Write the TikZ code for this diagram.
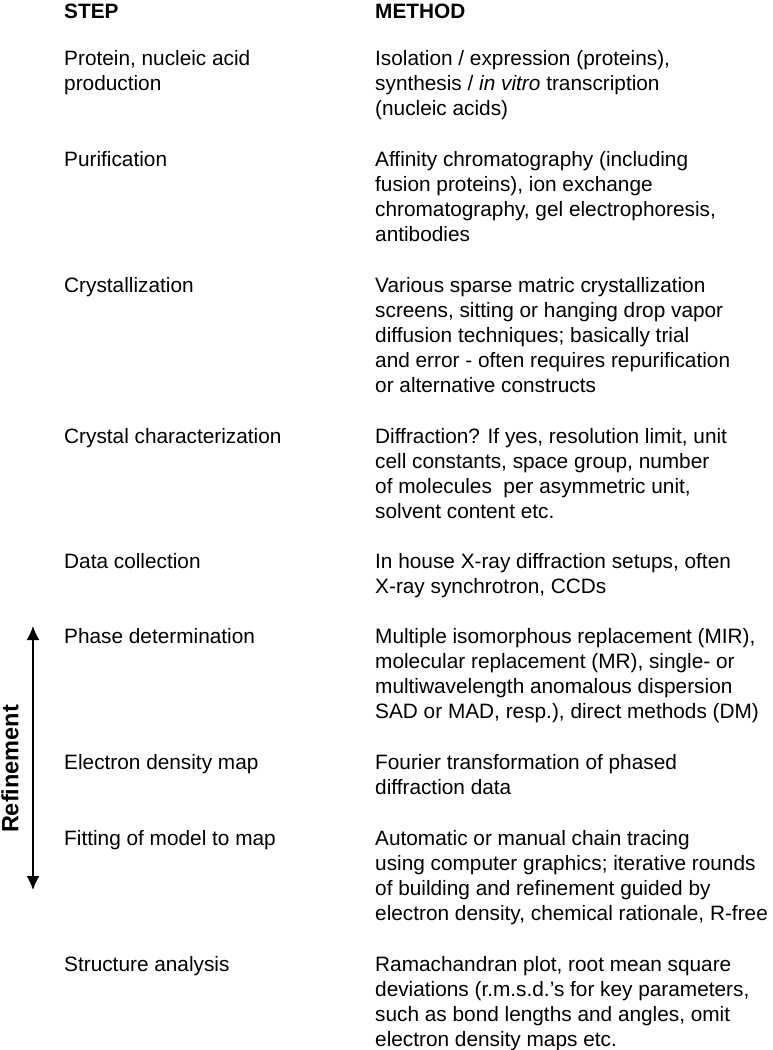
\documentclass[tikz,border=0pt]{standalone}
\usepackage{fontspec}
\setmainfont{Liberation Sans}
\usetikzlibrary{arrows.meta}
\begin{document}
\begin{tikzpicture}[x=1pt,y=-1pt,
  txt/.style={anchor=north west,align=left,inner sep=0pt,font=\fontsize{20.8}{25}\selectfont},
  hdr/.style={txt,font=\fontsize{20.8}{25}\selectfont\bfseries}]
\useasboundingbox (0,0) rectangle (772,1050);
% node top = first baseline - 17.5 (strut height)
\node[hdr] (h1) at (64,0.5) {\strut STEP};
\node[hdr] (h2) at (375,0.5) {\strut METHOD};
\node[txt] (s1) at (64,47.5) {\strut Protein, nucleic acid\\production};
\node[txt] (m1) at (375,47.5) {\strut Isolation / expression (proteins),\\synthesis / \textit{in vitro} transcription\\(nucleic acids)};
\node[txt] (s2) at (64,148.5) {\strut Purification};
\node[txt] (m2) at (375,148.5) {\strut Affinity chromatography (including\\fusion proteins), ion exchange\\chromatography, gel electrophoresis,\\antibodies};
\node[txt] (s3) at (64,274.5) {\strut Crystallization};
\node[txt] (m3) at (375,274.5) {\strut Various sparse matric crystallization\\screens, sitting or hanging drop vapor\\diffusion techniques; basically trial\\and error - often requires repurification\\or alternative constructs};
\node[txt] (s4) at (64,425.5) {\strut Crystal characterization};
\node[txt] (m4) at (375,425.5) {\strut Diffraction? If yes, resolution limit, unit\\cell constants, space group, number\\of molecules\ \ per asymmetric unit,\\solvent content etc.};
\node[txt] (s5) at (64,550.5) {\strut Data collection};
\node[txt] (m5) at (375,550.5) {\strut In house X-ray diffraction setups, often\\X-ray synchrotron, CCDs};
\node[txt] (s6) at (64,625.5) {\strut Phase determination};
\node[txt] (m6) at (375,625.5) {\strut Multiple isomorphous replacement (MIR),\\molecular replacement (MR), single- or\\multiwavelength anomalous dispersion\\SAD or MAD, resp.), direct methods (DM)};
\node[txt] (s7) at (64,751.5) {\strut Electron density map};
\node[txt] (m7) at (375,751.5) {\strut Fourier transformation of phased\\diffraction data};
\node[txt] (s8) at (64,827.5) {\strut Fitting of model to map};
\node[txt] (m8) at (375,827.5) {\strut Automatic or manual chain tracing\\using computer graphics; iterative rounds\\of building and refinement guided by\\electron density, chemical rationale, R-free};
\node[txt] (s9) at (64,953.5) {\strut Structure analysis};
\node[txt] (m9) at (375,953.5) {\strut Ramachandran plot, root mean square\\deviations (r.m.s.d.'s for key parameters,\\such as bond lengths and angles, omit\\electron density maps etc.};
\coordinate (atop) at (33,626);
\coordinate (abot) at (33,890);
\draw[line width=1.6pt,{Latex[length=14pt,width=13pt]}-{Latex[length=14pt,width=13pt]}] (atop) -- (abot);
\node[rotate=90,inner sep=0pt,font=\fontsize{23.5}{28}\selectfont\bfseries] (ref) at (10,769) {Refinement};
\end{tikzpicture}
\end{document}
